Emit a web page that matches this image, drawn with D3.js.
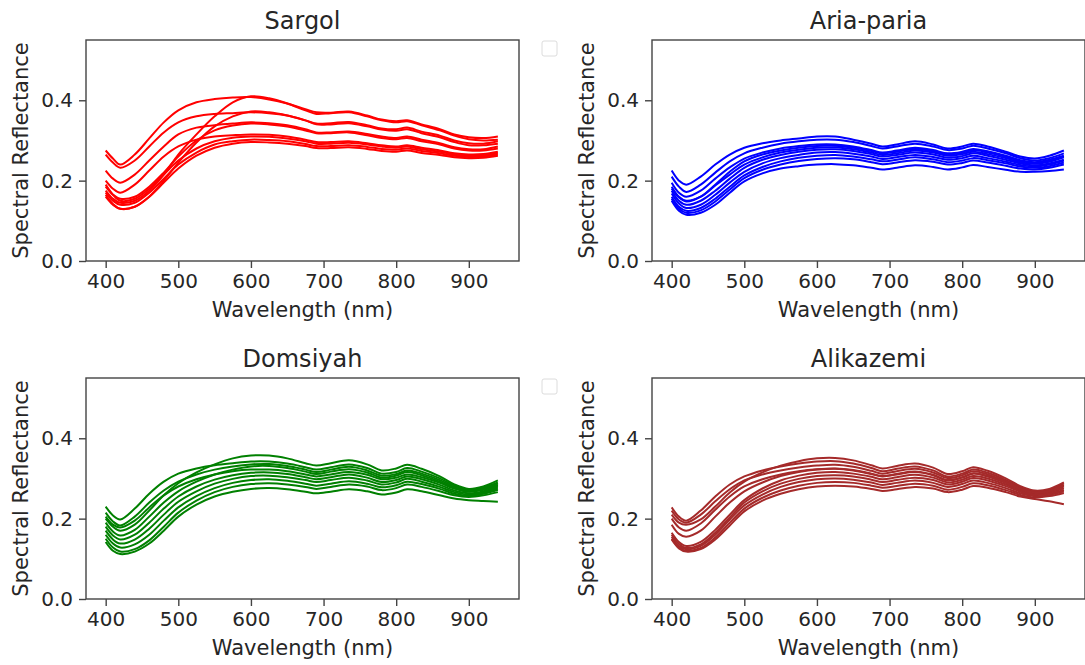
<!DOCTYPE html>
<html>
<head>
<meta charset="utf-8">
<script src="https://cdn.jsdelivr.net/npm/d3@7"></script>
<style>
  body { margin: 0; background: #fff; }
  text { font-family: 'DejaVu Sans', sans-serif; fill: #262626; }
</style>
</head>
<body>
<div class="chart"></div>
<script>
// DATA ------------------------------------
const wavelengths = [400, 410, 420, 440, 460, 480, 500, 525, 550, 575, 600, 625, 650, 675, 690, 710, 735, 760, 780, 800, 815, 835, 860, 880, 900, 920, 940]

const varieties = ['Sargol', 'Aria-paria', 'Domsiyah', 'Alikazemi']

const sargol = [
  [0.275, 0.255, 0.240, 0.265, 0.305, 0.345, 0.375, 0.395, 0.403, 0.407, 0.408, 0.402, 0.392, 0.378, 0.370, 0.369, 0.372, 0.362, 0.352, 0.348, 0.350, 0.340, 0.328, 0.315, 0.308, 0.306, 0.310],
  [0.175, 0.155, 0.145, 0.150, 0.175, 0.215, 0.265, 0.315, 0.360, 0.395, 0.410, 0.405, 0.392, 0.375, 0.366, 0.368, 0.370, 0.360, 0.350, 0.345, 0.348, 0.338, 0.325, 0.312, 0.303, 0.300, 0.302],
  [0.265, 0.245, 0.232, 0.250, 0.285, 0.320, 0.345, 0.360, 0.366, 0.368, 0.370, 0.368, 0.362, 0.350, 0.342, 0.343, 0.346, 0.338, 0.330, 0.328, 0.332, 0.322, 0.312, 0.300, 0.293, 0.292, 0.298],
  [0.160, 0.140, 0.130, 0.135, 0.160, 0.200, 0.245, 0.295, 0.335, 0.360, 0.372, 0.370, 0.362, 0.350, 0.340, 0.340, 0.343, 0.335, 0.327, 0.324, 0.328, 0.318, 0.308, 0.296, 0.288, 0.288, 0.292],
  [0.225, 0.205, 0.195, 0.215, 0.250, 0.285, 0.315, 0.332, 0.338, 0.342, 0.345, 0.343, 0.338, 0.328, 0.320, 0.320, 0.322, 0.316, 0.310, 0.306, 0.310, 0.302, 0.293, 0.283, 0.278, 0.278, 0.285],
  [0.185, 0.165, 0.155, 0.160, 0.185, 0.220, 0.260, 0.300, 0.325, 0.337, 0.342, 0.340, 0.335, 0.325, 0.318, 0.318, 0.320, 0.313, 0.306, 0.303, 0.306, 0.298, 0.290, 0.280, 0.275, 0.275, 0.280],
  [0.200, 0.180, 0.170, 0.190, 0.225, 0.260, 0.285, 0.302, 0.310, 0.313, 0.315, 0.314, 0.310, 0.302, 0.296, 0.296, 0.298, 0.293, 0.288, 0.285, 0.288, 0.282, 0.275, 0.268, 0.265, 0.266, 0.272],
  [0.190, 0.165, 0.150, 0.155, 0.180, 0.215, 0.250, 0.280, 0.298, 0.307, 0.310, 0.309, 0.305, 0.298, 0.292, 0.292, 0.294, 0.290, 0.285, 0.282, 0.285, 0.278, 0.272, 0.265, 0.262, 0.263, 0.268],
  [0.170, 0.150, 0.140, 0.145, 0.170, 0.205, 0.240, 0.270, 0.290, 0.298, 0.302, 0.301, 0.298, 0.291, 0.286, 0.286, 0.288, 0.284, 0.279, 0.277, 0.280, 0.274, 0.268, 0.262, 0.259, 0.260, 0.265],
  [0.165, 0.142, 0.130, 0.135, 0.160, 0.195, 0.230, 0.262, 0.282, 0.292, 0.296, 0.295, 0.292, 0.286, 0.281, 0.281, 0.283, 0.279, 0.274, 0.272, 0.275, 0.269, 0.264, 0.258, 0.256, 0.257, 0.262]
]

const ariaParia = [
  [0.225, 0.200, 0.190, 0.210, 0.240, 0.265, 0.282, 0.293, 0.300, 0.305, 0.310, 0.310, 0.302, 0.292, 0.285, 0.290, 0.298, 0.290, 0.280, 0.285, 0.292, 0.285, 0.272, 0.260, 0.255, 0.262, 0.275],
  [0.210, 0.185, 0.172, 0.190, 0.220, 0.248, 0.268, 0.282, 0.292, 0.298, 0.302, 0.302, 0.296, 0.286, 0.280, 0.285, 0.292, 0.285, 0.276, 0.280, 0.287, 0.280, 0.268, 0.256, 0.250, 0.256, 0.268],
  [0.195, 0.170, 0.160, 0.175, 0.205, 0.233, 0.255, 0.270, 0.280, 0.286, 0.290, 0.290, 0.285, 0.276, 0.270, 0.275, 0.282, 0.276, 0.268, 0.272, 0.279, 0.273, 0.262, 0.251, 0.246, 0.252, 0.262],
  [0.185, 0.160, 0.150, 0.160, 0.188, 0.215, 0.240, 0.258, 0.270, 0.277, 0.282, 0.283, 0.278, 0.270, 0.264, 0.268, 0.275, 0.270, 0.262, 0.266, 0.272, 0.266, 0.256, 0.246, 0.242, 0.247, 0.258],
  [0.175, 0.150, 0.140, 0.150, 0.175, 0.205, 0.232, 0.252, 0.264, 0.272, 0.277, 0.278, 0.274, 0.266, 0.260, 0.264, 0.270, 0.265, 0.257, 0.261, 0.268, 0.262, 0.252, 0.243, 0.238, 0.243, 0.252],
  [0.168, 0.143, 0.132, 0.140, 0.165, 0.195, 0.222, 0.243, 0.256, 0.264, 0.270, 0.271, 0.267, 0.260, 0.254, 0.258, 0.264, 0.259, 0.252, 0.256, 0.262, 0.256, 0.247, 0.239, 0.235, 0.240, 0.250],
  [0.160, 0.135, 0.125, 0.132, 0.155, 0.185, 0.213, 0.234, 0.248, 0.257, 0.262, 0.264, 0.260, 0.253, 0.248, 0.252, 0.258, 0.253, 0.246, 0.250, 0.256, 0.251, 0.243, 0.235, 0.232, 0.236, 0.245],
  [0.155, 0.130, 0.120, 0.126, 0.148, 0.178, 0.206, 0.227, 0.240, 0.249, 0.254, 0.256, 0.253, 0.246, 0.241, 0.245, 0.251, 0.247, 0.240, 0.244, 0.250, 0.245, 0.237, 0.230, 0.228, 0.232, 0.240],
  [0.150, 0.125, 0.115, 0.120, 0.140, 0.170, 0.198, 0.218, 0.230, 0.236, 0.240, 0.241, 0.238, 0.232, 0.228, 0.232, 0.238, 0.234, 0.228, 0.233, 0.239, 0.234, 0.227, 0.222, 0.222, 0.224, 0.228],
  [0.180, 0.158, 0.148, 0.160, 0.190, 0.222, 0.248, 0.265, 0.275, 0.282, 0.286, 0.287, 0.282, 0.274, 0.268, 0.272, 0.279, 0.273, 0.265, 0.269, 0.276, 0.270, 0.259, 0.249, 0.244, 0.250, 0.260]
]

const domsiyah = [
  [0.230, 0.208, 0.198, 0.225, 0.262, 0.292, 0.312, 0.325, 0.333, 0.338, 0.342, 0.342, 0.337, 0.328, 0.322, 0.328, 0.335, 0.326, 0.312, 0.316, 0.326, 0.317, 0.300, 0.282, 0.272, 0.278, 0.290],
  [0.200, 0.180, 0.170, 0.185, 0.220, 0.258, 0.288, 0.315, 0.335, 0.350, 0.357, 0.357, 0.350, 0.338, 0.332, 0.338, 0.345, 0.335, 0.320, 0.325, 0.334, 0.324, 0.305, 0.285, 0.274, 0.280, 0.295],
  [0.215, 0.193, 0.183, 0.205, 0.240, 0.270, 0.292, 0.310, 0.322, 0.330, 0.335, 0.336, 0.331, 0.322, 0.316, 0.322, 0.329, 0.320, 0.307, 0.311, 0.320, 0.312, 0.296, 0.279, 0.270, 0.275, 0.287],
  [0.190, 0.168, 0.158, 0.172, 0.205, 0.240, 0.268, 0.292, 0.310, 0.322, 0.330, 0.331, 0.326, 0.317, 0.311, 0.317, 0.323, 0.315, 0.302, 0.307, 0.316, 0.308, 0.292, 0.276, 0.268, 0.273, 0.284],
  [0.180, 0.158, 0.148, 0.160, 0.190, 0.225, 0.255, 0.280, 0.297, 0.308, 0.314, 0.315, 0.311, 0.303, 0.298, 0.303, 0.310, 0.302, 0.291, 0.296, 0.305, 0.298, 0.284, 0.270, 0.263, 0.268, 0.278],
  [0.170, 0.148, 0.138, 0.148, 0.175, 0.210, 0.242, 0.268, 0.287, 0.299, 0.306, 0.307, 0.303, 0.296, 0.291, 0.296, 0.302, 0.295, 0.285, 0.290, 0.299, 0.292, 0.279, 0.266, 0.260, 0.265, 0.275],
  [0.160, 0.138, 0.128, 0.136, 0.160, 0.195, 0.228, 0.256, 0.276, 0.289, 0.296, 0.298, 0.294, 0.287, 0.282, 0.287, 0.293, 0.287, 0.278, 0.283, 0.292, 0.286, 0.274, 0.262, 0.257, 0.262, 0.272],
  [0.150, 0.128, 0.118, 0.124, 0.146, 0.180, 0.215, 0.245, 0.266, 0.279, 0.286, 0.288, 0.285, 0.279, 0.274, 0.279, 0.285, 0.280, 0.271, 0.276, 0.285, 0.279, 0.268, 0.258, 0.254, 0.258, 0.266],
  [0.142, 0.120, 0.112, 0.118, 0.138, 0.170, 0.205, 0.235, 0.255, 0.267, 0.274, 0.276, 0.273, 0.267, 0.263, 0.267, 0.273, 0.268, 0.260, 0.265, 0.273, 0.268, 0.258, 0.250, 0.246, 0.244, 0.242],
  [0.205, 0.185, 0.178, 0.195, 0.228, 0.258, 0.280, 0.298, 0.310, 0.318, 0.322, 0.322, 0.318, 0.310, 0.305, 0.310, 0.316, 0.309, 0.298, 0.302, 0.310, 0.303, 0.289, 0.275, 0.267, 0.272, 0.282]
]

const alikazemi = [
  [0.228, 0.205, 0.195, 0.220, 0.255, 0.285, 0.305, 0.320, 0.330, 0.337, 0.342, 0.343, 0.337, 0.326, 0.318, 0.324, 0.330, 0.320, 0.305, 0.312, 0.322, 0.314, 0.296, 0.278, 0.268, 0.272, 0.288],
  [0.210, 0.190, 0.185, 0.198, 0.230, 0.265, 0.292, 0.315, 0.332, 0.343, 0.350, 0.351, 0.345, 0.333, 0.325, 0.331, 0.337, 0.327, 0.311, 0.318, 0.328, 0.319, 0.300, 0.281, 0.270, 0.274, 0.290],
  [0.220, 0.198, 0.190, 0.210, 0.243, 0.273, 0.295, 0.310, 0.320, 0.327, 0.332, 0.334, 0.329, 0.319, 0.312, 0.318, 0.324, 0.315, 0.301, 0.308, 0.318, 0.310, 0.293, 0.276, 0.266, 0.270, 0.284],
  [0.185, 0.162, 0.155, 0.170, 0.205, 0.240, 0.268, 0.290, 0.306, 0.316, 0.322, 0.324, 0.320, 0.311, 0.305, 0.310, 0.316, 0.308, 0.295, 0.302, 0.312, 0.305, 0.289, 0.273, 0.264, 0.268, 0.280],
  [0.165, 0.142, 0.132, 0.142, 0.172, 0.210, 0.246, 0.275, 0.295, 0.307, 0.314, 0.316, 0.312, 0.304, 0.298, 0.303, 0.309, 0.302, 0.290, 0.297, 0.306, 0.300, 0.285, 0.270, 0.262, 0.265, 0.276],
  [0.160, 0.137, 0.127, 0.136, 0.165, 0.203, 0.240, 0.268, 0.287, 0.299, 0.306, 0.308, 0.305, 0.297, 0.291, 0.296, 0.302, 0.296, 0.285, 0.292, 0.301, 0.295, 0.281, 0.267, 0.259, 0.262, 0.272],
  [0.155, 0.132, 0.124, 0.132, 0.160, 0.198, 0.233, 0.260, 0.279, 0.291, 0.298, 0.300, 0.297, 0.290, 0.284, 0.289, 0.295, 0.289, 0.279, 0.286, 0.295, 0.289, 0.276, 0.263, 0.256, 0.259, 0.268],
  [0.150, 0.128, 0.120, 0.127, 0.153, 0.190, 0.225, 0.252, 0.270, 0.282, 0.289, 0.291, 0.289, 0.282, 0.277, 0.281, 0.287, 0.282, 0.272, 0.279, 0.288, 0.283, 0.271, 0.259, 0.253, 0.256, 0.264],
  [0.148, 0.126, 0.118, 0.124, 0.148, 0.183, 0.218, 0.245, 0.262, 0.273, 0.280, 0.282, 0.280, 0.274, 0.269, 0.273, 0.279, 0.275, 0.266, 0.272, 0.281, 0.277, 0.266, 0.255, 0.249, 0.243, 0.236],
  [0.200, 0.178, 0.170, 0.188, 0.222, 0.255, 0.280, 0.298, 0.310, 0.318, 0.323, 0.325, 0.321, 0.312, 0.306, 0.311, 0.317, 0.309, 0.296, 0.303, 0.313, 0.306, 0.290, 0.274, 0.265, 0.269, 0.282]
]

const spectra = [sargol, ariaParia, domsiyah, alikazemi]
const xTicks = [400, 500, 600, 700, 800, 900]
const yTicks = [0, 0.2, 0.4]

// LAYOUT ----------------------------------
const colors = ['#ff0000', '#0000ff', '#008000', '#a52a2a']
const panels = [
  { left: 86, top: 40 },
  { left: 652, top: 40 },
  { left: 86, top: 378 },
  { left: 652, top: 378 }
]
const width = 433
const height = 221

const svg = d3.select('.chart')
  .append('svg')
  .attr('width', 1085)
  .attr('height', 665)

const xScale = d3.scaleLinear()
  .domain([372.9, 969.1])
  .range([0, width])

const yScale = d3.scaleLinear()
  .domain([0, 0.55])
  .range([height, 0])

const line = d3.line()
  .x((d, i) => xScale(wavelengths[i]))
  .y(d => yScale(d))
  .curve(d3.curveCatmullRom.alpha(0.5))

// PANELS ----------------------------------
panels.forEach((p, k) => {
  const g = svg.append('g')
    .attr('transform', `translate(${p.left},${p.top})`)

  // curves
  g.selectAll('path.curve')
    .data(spectra[k])
    .enter()
    .append('path')
    .attr('class', 'curve')
    .attr('d', line)
    .attr('fill', 'none')
    .attr('stroke', colors[k])
    .attr('stroke-width', 2)
    .attr('stroke-linejoin', 'round')

  // axes
  const xAxis = d3.axisBottom(xScale).tickValues(xTicks).tickSize(7).tickPadding(6)
  const yAxis = d3.axisLeft(yScale).tickValues(yTicks).tickSize(7).tickPadding(6).tickFormat(d3.format('.1f'))

  g.append('g')
    .attr('transform', `translate(0,${height})`)
    .call(xAxis)
    .call(a => a.select('.domain').remove())
    .call(a => a.selectAll('line').attr('stroke', '#444').attr('stroke-width', 1.4))
    .call(a => a.selectAll('text').attr('font-size', 20).attr('font-family', 'DejaVu Sans').attr('fill', '#262626'))

  g.append('g')
    .call(yAxis)
    .call(a => a.select('.domain').remove())
    .call(a => a.selectAll('line').attr('stroke', '#444').attr('stroke-width', 1.4))
    .call(a => a.selectAll('text').attr('font-size', 20).attr('font-family', 'DejaVu Sans').attr('fill', '#262626'))

  // frame
  g.append('rect')
    .attr('width', width)
    .attr('height', height)
    .attr('fill', 'none')
    .attr('stroke', '#444')
    .attr('stroke-width', 1.4)

  // title and labels
  g.append('text')
    .attr('x', width / 2)
    .attr('y', -11)
    .attr('text-anchor', 'middle')
    .attr('font-size', 24)
    .text(varieties[k])

  g.append('text')
    .attr('x', width / 2)
    .attr('y', height + 56)
    .attr('text-anchor', 'middle')
    .attr('font-size', 21)
    .text('Wavelength (nm)')

  g.append('text')
    .attr('transform', `translate(-58,${height / 2}) rotate(-90)`)
    .attr('text-anchor', 'middle')
    .attr('font-size', 21)
    .text('Spectral Reflectance')
})

// empty legend boxes next to the left panels
svg.selectAll('rect.legend')
  .data([panels[0], panels[2]])
  .enter()
  .append('rect')
  .attr('class', 'legend')
  .attr('x', 542)
  .attr('y', d => d.top + 1)
  .attr('width', 15)
  .attr('height', 15)
  .attr('rx', 2)
  .attr('fill', '#fff')
  .attr('stroke', '#dcdcdc')
</script>
</body>
</html>
